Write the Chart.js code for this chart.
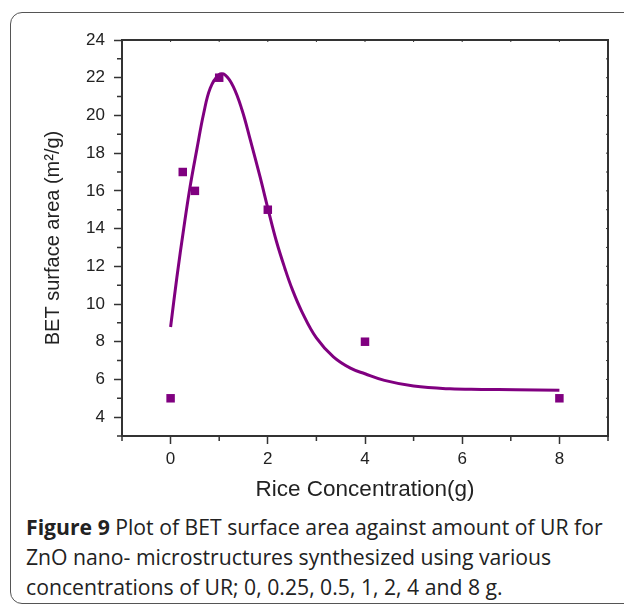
<!DOCTYPE html>
<html>
<head>
<meta charset="utf-8">
<script src="https://cdn.jsdelivr.net/npm/chart.js@4.4.1/dist/chart.umd.min.js"></script>
<style>
  html, body { margin: 0; padding: 0; background: #fff; }
  #wrap { position: relative; width: 624px; height: 605px; overflow: hidden; }
  #frame {
    position: absolute; left: 10px; top: 12px; width: 700px; height: 592px;
    border: 1.5px solid #555; border-radius: 12px; box-sizing: border-box;
  }
  #chart { position: absolute; left: 0; top: 0; }
  #caption {
    position: absolute; left: 26px; top: 512px; width: 598px; white-space: nowrap;
    font-family: "Open Sans", "Noto Sans", sans-serif; font-size: 21.2px; font-weight: 500;
    line-height: 30px; color: #222;
  }
  #caption b { font-weight: 700; }
</style>
</head>
<body>
<div id="wrap">
  <div id="frame"></div>
  <canvas id="chart" width="624" height="505"></canvas>
  <div id="caption"><b>Figure 9</b> Plot of BET surface area against amount of UR for<br>ZnO nano- microstructures synthesized using various<br>concentrations of UR; 0, 0.25, 0.5, 1, 2, 4 and 8 g.</div>
</div>
<script>
// measured points
const riceX = [0, 0.25, 0.5, 1, 2, 4, 8];
const betArea = [5, 17, 16, 22, 15, 8, 5];

// fitted curve
const fitX = [0, 0.13, 0.27, 0.4, 0.54, 0.68, 0.815, 0.99, 1.12, 1.29, 1.47, 1.64, 1.84, 2.01, 2.18, 2.35, 2.5, 2.7, 3.0, 3.35, 3.7, 4.0, 4.4, 5.0, 5.75, 6.4, 7.1, 8.0];
const fitY = [8.78, 11.43, 14.0, 16.2, 18.2, 20.1, 21.44, 22.15, 22.15, 21.53, 20.29, 18.7, 16.75, 14.98, 13.3, 11.9, 10.8, 9.6, 8.2, 7.2, 6.6, 6.3, 5.95, 5.65, 5.5, 5.47, 5.45, 5.42];

// tick labels
const xTicks = [0, 2, 4, 6, 8];
const yTicks = [4, 6, 8, 10, 12, 14, 16, 18, 20, 22, 24];
const xMinor = [-1, 1, 3, 5, 7, 9];
const yMinor = [3, 5, 7, 9, 11, 13, 15, 17, 19, 21, 23];

const purple = '#800080';
const axisColor = '#333';

// minor ticks + top/right frame
const boxPlugin = {
  id: 'box',
  afterDraw(chart) {
    const { ctx, chartArea: a, scales: { x, y } } = chart;
    ctx.save();
    ctx.strokeStyle = axisColor;
    ctx.lineWidth = 2;
    ctx.beginPath();
    ctx.moveTo(a.left, a.top); ctx.lineTo(a.right, a.top); ctx.lineTo(a.right, a.bottom);
    ctx.stroke();
    ctx.lineWidth = 1.5;
    ctx.beginPath();
    xMinor.forEach(v => {
      const px = x.getPixelForValue(v);
      ctx.moveTo(px, a.bottom); ctx.lineTo(px, a.bottom + 5);
    });
    yMinor.forEach(v => {
      const py = y.getPixelForValue(v);
      ctx.moveTo(a.left, py); ctx.lineTo(a.left - 5, py);
    });
    ctx.stroke();
    ctx.lineWidth = 1;
    ctx.beginPath();
    xTicks.concat(xMinor).forEach(v => {
      const px = x.getPixelForValue(v);
      ctx.moveTo(px, a.top); ctx.lineTo(px, a.top + 2);
    });
    yTicks.concat(yMinor).forEach(v => {
      const py = y.getPixelForValue(v);
      ctx.moveTo(a.right, py); ctx.lineTo(a.right - 2, py);
    });
    ctx.stroke();
    ctx.restore();
  }
};

const ctx = document.getElementById('chart').getContext('2d');
new Chart(ctx, {
  type: 'scatter',
  data: {
    datasets: [
      {
        label: 'BET',
        data: riceX.map((v, i) => ({ x: v, y: betArea[i] })),
        pointStyle: 'rect',
        pointRadius: 6,
        pointHoverRadius: 6,
        backgroundColor: purple,
        borderColor: purple,
        borderWidth: 0,
        order: 0
      },
      {
        label: 'fit',
        data: fitX.map((v, i) => ({ x: v, y: fitY[i] })),
        showLine: true,
        pointRadius: 0,
        borderColor: purple,
        borderWidth: 3,
        tension: 0.4,
        fill: false,
        order: 1
      }
    ]
  },
  options: {
    responsive: false,
    animation: false,
    devicePixelRatio: 1,
    layout: { padding: { top: 40, right: 16, left: 0, bottom: 0 } },
    plugins: { legend: { display: false }, tooltip: { enabled: false } },
    scales: {
      x: {
        type: 'linear',
        min: -1,
        max: 9,
        afterBuildTicks: s => { s.ticks = xTicks.map(v => ({ value: v })); },
        afterFit: s => { s.height = 69; },
        grid: { drawOnChartArea: false, tickLength: 8, tickWidth: 1.5, tickColor: axisColor },
        border: { color: axisColor, width: 2 },
        ticks: { color: '#222', padding: 5, font: { family: 'Liberation Sans', size: 17 } },
        title: {
          display: true,
          text: 'Rice Concentration(g)',
          color: '#222',
          font: { family: 'Liberation Sans', size: 22.5 },
          padding: { top: 0, bottom: 2 }
        }
      },
      y: {
        type: 'linear',
        min: 3,
        max: 24,
        afterBuildTicks: s => { s.ticks = yTicks.map(v => ({ value: v })); },
        afterFit: s => { s.width = 122; },
        grid: { drawOnChartArea: false, tickLength: 8, tickWidth: 1.5, tickColor: axisColor },
        border: { color: axisColor, width: 2 },
        ticks: { color: '#222', padding: 9, font: { family: 'Liberation Sans', size: 17 } },
        title: {
          display: true,
          text: 'BET surface area (m²/g)',
          color: '#222',
          font: { family: 'Liberation Sans', size: 20 },
          padding: { top: 41, bottom: 0 }
        }
      }
    }
  },
  plugins: [boxPlugin]
});
</script>
</body>
</html>
